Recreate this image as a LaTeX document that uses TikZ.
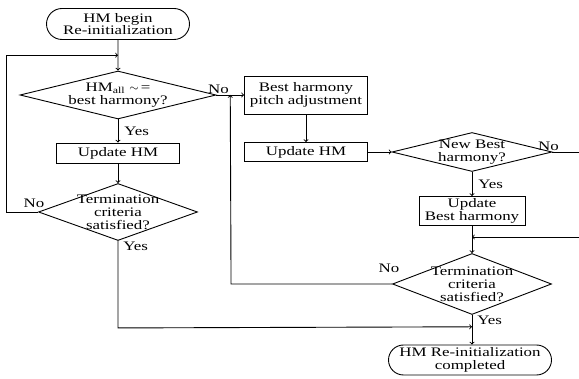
\documentclass[tikz,border=0pt]{standalone}
\usepackage{fontspec}
\setmainfont{Liberation Serif}[FakeStretch=1.3]
\usetikzlibrary{arrows, shapes.geometric, shapes.misc, calc}

\begin{document}
\begin{tikzpicture}[x=1pt,y=-1pt,>=to,line width=0.9pt,
                    font=\fontsize{13}{12.8}\selectfont]
  \tikzstyle{term} = [draw, rounded rectangle, align=center, inner sep=0pt]
  \tikzstyle{proc} = [draw, rectangle, align=center, inner sep=0pt]
  \tikzstyle{dec} = [draw, diamond, inner sep=0pt]
  \tikzstyle{lbl} = [inner sep=1pt]
  \useasboundingbox (0,0) rectangle (579,379);

  % left column
  \node [term, minimum width=143pt, minimum height=31pt] (begin) at (118,24)
    {HM begin\\Re-initialization};
  \node [dec, minimum width=196pt, minimum height=48pt,
         label={[align=center]center:HM\textsubscript{all} $\sim$\,=\\best harmony?}]
    (cmp) at (118,95) {};
  \node [proc, minimum width=123pt, minimum height=20pt] (upd1) at (118,153) {Update HM};
  \node [dec, minimum width=159pt, minimum height=57pt,
         label={[align=center]center:Termination\\criteria\\satisfied?}]
    (term1) at (118,212) {};

  % middle column
  \node [proc, minimum width=123pt, minimum height=38pt] (pitch) at (306,95)
    {Best harmony\\pitch adjustment};
  \node [proc, minimum width=123pt, minimum height=19pt] (upd2) at (306,152)
    {Update HM};

  % right column
  \node [dec, minimum width=160pt, minimum height=39pt,
         label={[align=center]center:New Best\\harmony?}]
    (newbest) at (472,152) {};
  \node [proc, minimum width=106pt, minimum height=29pt] (updbest) at (472,211)
    {Update\\Best harmony};
  \node [dec, minimum width=159pt, minimum height=61pt,
         label={[align=center]center:Termination\\criteria\\satisfied?}]
    (term2) at (472,284) {};
  \node [term, minimum width=163pt, minimum height=30pt] (done) at (470,360)
    {HM Re-initialization\\completed};

  \coordinate (exit) at (579,152);
  \coordinate (entry) at (579,237);

  % connectors
  \draw [->] (begin) -- (cmp);
  \draw [->] (cmp) -- node [lbl, right=5pt] (yes1) {Yes} (upd1);
  \draw [->] (upd1) -- (term1);
  \draw [->] (term1.west) -- node [lbl, above, pos=0, xshift=-4pt, yshift=3pt] (no2) {No}
    ++(-32,0) |- ($(begin.south)!.5!(cmp.north)$);
  \draw [->] (cmp.east) -- node [lbl, above, pos=0, xshift=2pt] (no1) {No} (pitch.west);
  \draw [->] (term1.south) -- node [lbl, below right, pos=0, xshift=4pt] (yes2) {Yes}
    ++(0,87) -- ($(term2.south)!.4!(term2.south |- done.north)$);
  \draw [->] (pitch) -- (upd2);
  \draw [->] (upd2) -- (newbest);
  \draw (newbest.east) -- node [lbl, above, pos=0, xshift=-4pt] (no3) {No} (exit);
  \draw [->] (newbest) -- node [lbl, right=5pt] (yes3) {Yes} (updbest);
  \draw [->] (updbest) -- (term2);
  \draw [->] (entry) -- (entry -| term2.north);
  \draw [->] (term2.west) -- node [lbl, above, pos=0, xshift=-3pt, yshift=10pt] (no4) {No}
    ++(-161,0) -- ($(cmp.east)!.5!(pitch.west)$);
  \draw [->] (term2.south) -- node [lbl, below right, pos=0, xshift=4pt] (yes4) {Yes}
    (term2.south |- done.north);
\end{tikzpicture}
\end{document}
